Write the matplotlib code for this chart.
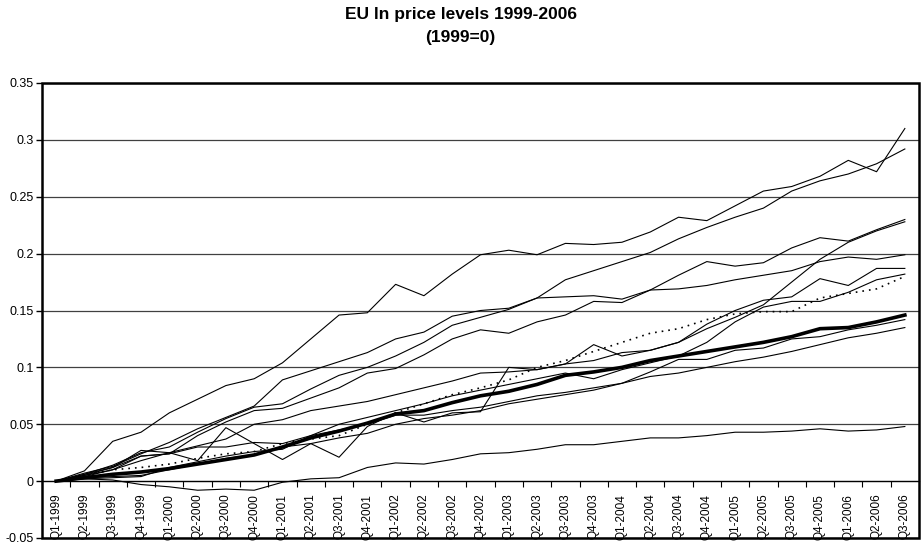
import numpy as np
import matplotlib.pyplot as plt
from matplotlib.patches import Rectangle

plt.rcParams['font.family'] = ['Liberation Sans', 'DejaVu Sans']

# quarters Q1-1999 .. Q3-2006
quarters = [f"Q{q}-{y}" for y in range(1999, 2007) for q in range(1, 5)][:31]

# country series (ln price level, 1999=0)
s_a = [0, 0.009, 0.035, 0.043, 0.060, 0.072, 0.084, 0.090, 0.104, 0.125, 0.146, 0.148, 0.173, 0.163, 0.182,
       0.199, 0.203, 0.199, 0.209, 0.208, 0.210, 0.219, 0.232, 0.229, 0.242, 0.255, 0.259, 0.268, 0.282, 0.272, 0.310]
s_b = [0, 0.006, 0.014, 0.025, 0.030, 0.043, 0.055, 0.065, 0.068, 0.081, 0.093, 0.100, 0.110, 0.122, 0.137,
       0.144, 0.151, 0.161, 0.177, 0.185, 0.193, 0.201, 0.213, 0.223, 0.232, 0.240, 0.255, 0.264, 0.270, 0.279, 0.292]
s_c = [0, 0.007, 0.013, 0.024, 0.034, 0.046, 0.056, 0.066, 0.089, 0.097, 0.105, 0.113, 0.125, 0.131, 0.145,
       0.150, 0.152, 0.161, 0.162, 0.163, 0.160, 0.168, 0.169, 0.172, 0.177, 0.181, 0.185, 0.193, 0.197, 0.195, 0.199]
s_e = [0, 0.006, 0.012, 0.022, 0.024, 0.040, 0.052, 0.062, 0.064, 0.073, 0.082, 0.095, 0.099, 0.111, 0.125,
       0.133, 0.130, 0.140, 0.146, 0.158, 0.157, 0.168, 0.181, 0.193, 0.189, 0.192, 0.205, 0.214, 0.211, 0.221, 0.230]
s_d2 = [0, 0.005, 0.010, 0.018, 0.025, 0.031, 0.037, 0.050, 0.054, 0.062, 0.066, 0.070, 0.076, 0.082, 0.088,
        0.095, 0.096, 0.098, 0.103, 0.106, 0.113, 0.115, 0.122, 0.134, 0.144, 0.155, 0.175, 0.195, 0.210, 0.220, 0.228]
s_p = [0, 0.005, 0.012, 0.027, 0.025, 0.018, 0.047, 0.033, 0.019, 0.033, 0.021, 0.048, 0.060, 0.052, 0.060,
       0.061, 0.100, 0.098, 0.103, 0.120, 0.110, 0.115, 0.122, 0.138, 0.150, 0.159, 0.162, 0.178, 0.172, 0.187, 0.187]
s_f = [0, 0.004, 0.010, 0.022, 0.024, 0.030, 0.030, 0.034, 0.033, 0.040, 0.050, 0.056, 0.062, 0.068, 0.075,
       0.080, 0.085, 0.090, 0.095, 0.090, 0.098, 0.104, 0.110, 0.122, 0.140, 0.153, 0.158, 0.158, 0.166, 0.177, 0.182]
s_n = [0, 0.002, 0.003, 0.004, 0.012, 0.017, 0.022, 0.026, 0.028, 0.040, 0.045, 0.050, 0.058, 0.058, 0.062,
       0.065, 0.070, 0.075, 0.078, 0.082, 0.086, 0.096, 0.107, 0.107, 0.115, 0.117, 0.125, 0.127, 0.133, 0.137, 0.142]
s_m = [0, 0.003, 0.004, 0.005, 0.010, 0.015, 0.020, 0.023, 0.030, 0.033, 0.038, 0.042, 0.050, 0.055, 0.058,
       0.062, 0.068, 0.072, 0.076, 0.080, 0.086, 0.092, 0.095, 0.100, 0.105, 0.109, 0.114, 0.120, 0.126, 0.130, 0.135]
s_l = [0, 0.002, 0.001, -0.003, -0.005, -0.008, -0.007, -0.008, -0.001, 0.002, 0.003, 0.012, 0.016, 0.015, 0.019,
       0.024, 0.025, 0.028, 0.032, 0.032, 0.035, 0.038, 0.038, 0.040, 0.043, 0.043, 0.044, 0.046, 0.044, 0.045, 0.048]
# dotted series and the bold average
s_dot = [0, 0.005, 0.010, 0.012, 0.015, 0.020, 0.024, 0.026, 0.033, 0.037, 0.040, 0.050, 0.060, 0.068, 0.076,
         0.082, 0.089, 0.100, 0.106, 0.114, 0.122, 0.130, 0.134, 0.142, 0.147, 0.149, 0.149, 0.161, 0.165, 0.169, 0.180]
s_avg = [0, 0.003, 0.006, 0.008, 0.011, 0.015, 0.019, 0.023, 0.030, 0.038, 0.044, 0.051, 0.059, 0.062, 0.069,
         0.075, 0.079, 0.085, 0.093, 0.096, 0.100, 0.106, 0.110, 0.114, 0.118, 0.122, 0.127, 0.134, 0.135, 0.140, 0.146]

thin_series = [s_a, s_b, s_c, s_e, s_d2, s_p, s_f, s_n, s_m, s_l]

fig = plt.figure(figsize=(9.21, 5.48), dpi=100)
ax = fig.add_axes([42 / 921, 10 / 548, 877 / 921, 455 / 548])

x = np.arange(len(quarters))
for s in thin_series:
    ax.plot(x, s, color='black', linewidth=0.8, zorder=3)
ax.plot(x, s_dot, color='black', linewidth=1.2, linestyle=(0, (1, 3)), zorder=3)
ax.plot(x, s_avg, color='black', linewidth=2.6, zorder=4)

ax.set_xlim(-0.5, len(quarters) - 0.5)
ax.set_ylim(-0.05, 0.35)
yt = np.arange(-0.05, 0.351, 0.05)
ax.set_yticks(yt)
ax.set_yticklabels([f"{v:g}" if abs(v) > 1e-9 else "0" for v in np.round(yt, 2)], fontsize=9)
ax.yaxis.grid(True, color='#404040', linewidth=0.9)
ax.set_axisbelow(True)
ax.tick_params(axis='y', direction='out', length=4, width=1, pad=2)

# category axis crossing at 0
for side in ['top', 'right', 'left']:
    ax.spines[side].set_visible(False)
ax.spines['bottom'].set_position(('data', 0))
ax.spines['bottom'].set_linewidth(0.9)
ax.set_xticks(np.arange(0.5, len(quarters) - 0.5, 1))
ax.set_xticklabels([])
ax.set_xticks(x, minor=True)
ax.set_xticklabels(quarters, minor=True, rotation=90, fontsize=8.5, va='top')
ax.tick_params(axis='x', which='major', direction='out', length=4, width=0.8)
ax.tick_params(axis='x', which='minor', length=0, pad=9)

# plot area border
ax.add_patch(Rectangle((0, 0), 1, 1, transform=ax.transAxes, fill=False,
                       edgecolor='black', linewidth=1.8, zorder=5, clip_on=False))

fig.text(0.5, 1 - 26 / 548, "EU ln price levels 1999-2006\n(1999=0)", ha='center', va='center',
         fontsize=12.5, fontweight='bold', linespacing=1.65)

fig.savefig('out.png', dpi=100)
